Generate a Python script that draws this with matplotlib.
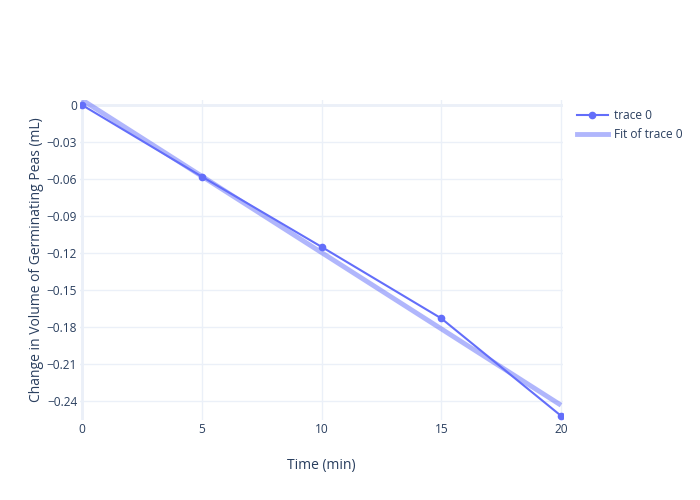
import numpy as np
import matplotlib
matplotlib.use("Agg")
import matplotlib.pyplot as plt
from matplotlib.lines import Line2D

# data
time_min = [0, 5, 10, 15, 20]
volume_change = [0.0, -0.058, -0.115, -0.173, -0.252]
y_ticks = [0, -0.03, -0.06, -0.09, -0.12, -0.15, -0.18, -0.21, -0.24]
x_ticks = [0, 5, 10, 15, 20]

# least squares fit, same as the "Fit of trace 0" line
slope, intercept = np.polyfit(time_min, volume_change, 1)
fit_x = np.array([time_min[0], time_min[-1]])
fit_y = slope * fit_x + intercept

plt.rcParams['font.family'] = ['Open Sans', 'DejaVu Sans']
text_color = '#2a3f5f'
grid_color = '#ebf0f8'
trace_color = '#636efa'

W, H = 700, 500
fig = plt.figure(figsize=(7, 5), dpi=100)
left, right, top, bottom = 80, 563, 100, 420
ax = fig.add_axes([left / W, 1 - bottom / H, (right - left) / W, (bottom - top) / H])

ax.set_xlim(-0.083, 20.083)
ax.set_ylim(-0.2554, 0.00405)

for s in ax.spines.values():
    s.set_visible(False)
ax.set_xticks(x_ticks)
ax.set_yticks(y_ticks)
ax.set_yticklabels(['0' if t == 0 else f'{t:.2f}'.replace('-', '\u2212') for t in y_ticks])
ax.grid(True, color=grid_color, linewidth=1)
ax.set_axisbelow(True)
ax.axvline(0, color=grid_color, linewidth=2, zorder=0)
ax.axhline(0, color=grid_color, linewidth=2, zorder=0)
ax.tick_params(length=0, colors=text_color, labelsize=8.6)
ax.tick_params(axis='y', pad=2)
ax.tick_params(axis='x', pad=2)

ax.plot(fit_x, fit_y, color=trace_color, alpha=0.5, linewidth=3.5, solid_capstyle='butt', zorder=2)
ax.plot(time_min, volume_change, color=trace_color, linewidth=1.5, marker='o', markersize=4.5, zorder=3)

ax.set_xlabel('Time (min)', color=text_color, fontsize=10, labelpad=16)
ax.set_ylabel('Change in Volume of Germinating Peas (mL)', color=text_color, fontsize=10)
ax.yaxis.set_label_coords((44 - left) / (right - left), 0.5)

handles = [
    Line2D([], [], color=trace_color, linewidth=1.5, marker='o', markersize=4.5),
    Line2D([], [], color=trace_color, alpha=0.5, linewidth=3.5),
]
fig.legend(handles, ['trace 0', 'Fit of trace 0'], loc='upper left',
           bbox_to_anchor=(572 / W, 1 - 104 / H), frameon=False,
           fontsize=8.6, labelcolor=text_color, handlelength=2.6,
           handletextpad=0.5, labelspacing=0.55, borderaxespad=0)

fig.savefig('out.png', dpi=100)
